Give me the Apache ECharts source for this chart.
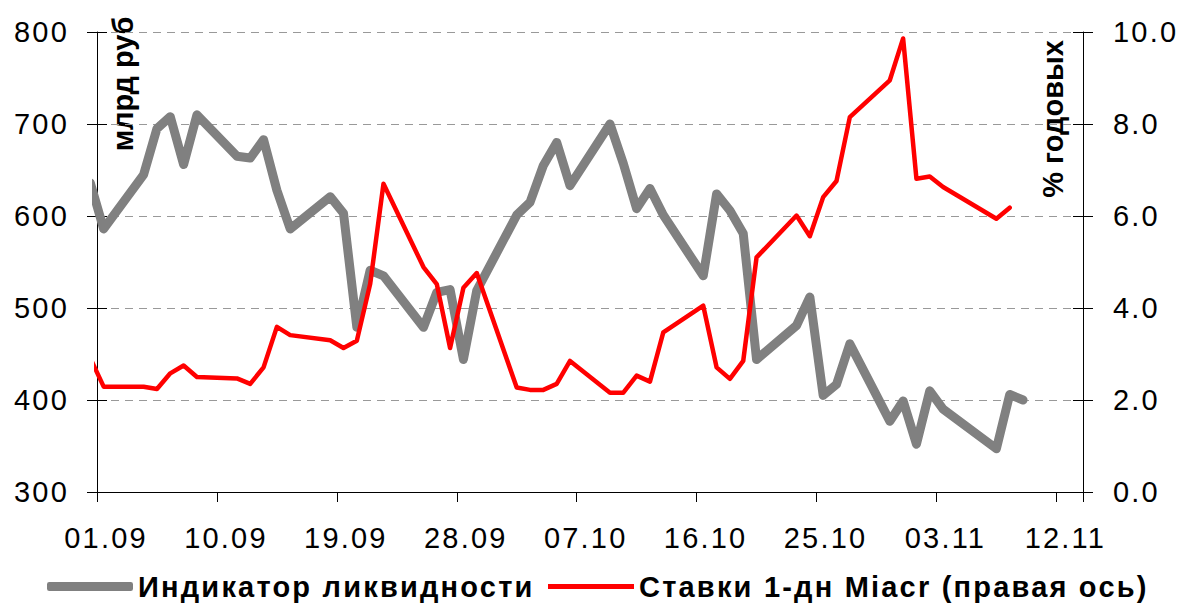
<!DOCTYPE html>
<html>
<head>
<meta charset="utf-8">
<script src="https://cdn.jsdelivr.net/npm/echarts@6/dist/echarts.min.js"></script>
<style>
  html, body { margin: 0; padding: 0; background: #fff; }
  #chart { width: 1186px; height: 606px; }
  /* в оригинале текст чуть растянут по горизонтали */
  #chart svg text { letter-spacing: 2.2px; }
</style>
</head>
<body>
<div id="chart"></div>
<script>
// торговые дни (31.08 — за левым краем, обрезается)
const dates = [
  '31.08', '01.09', '04.09', '05.09', '06.09', '07.09', '08.09',
  '11.09', '12.09', '13.09', '14.09', '15.09',
  '18.09', '19.09', '20.09', '21.09', '22.09',
  '25.09', '26.09', '27.09', '28.09', '29.09',
  '02.10', '03.10', '04.10', '05.10', '06.10',
  '09.10', '10.10', '11.10', '12.10', '13.10',
  '16.10', '17.10', '18.10', '19.10', '20.10',
  '23.10', '24.10', '25.10', '26.10', '27.10',
  '30.10', '31.10', '01.11', '02.11', '03.11',
  '07.11', '08.11', '09.11'
];
// Индикатор ликвидности, млрд руб
const liquidity = [
  636, 586, 645, 695, 708, 656, 710,
  665, 663, 683, 628, 586,
  621, 603, 479, 541, 535,
  479, 517, 520, 444, 519,
  601, 615, 655, 680, 633,
  700, 657, 608, 630, 601,
  535, 624, 606, 581, 444,
  481, 512, 405, 417, 461,
  377, 399, 352, 410, 390,
  347, 406, 400
];
// Ставки 1-дн Miacr, % годовых
const miacr = [
  2.91, 2.29, 2.29, 2.24, 2.58, 2.75, 2.5,
  2.47, 2.35, 2.71, 3.59, 3.41,
  3.3, 3.13, 3.29, 4.52, 6.7,
  4.89, 4.52, 3.13, 4.44, 4.76,
  2.27, 2.22, 2.22, 2.35, 2.85,
  2.16, 2.16, 2.53, 2.4, 3.47,
  4.05, 2.71, 2.46, 2.85, 5.1,
  6.01, 5.56, 6.41, 6.76, 8.15,
  8.95, 9.86, 6.81, 6.86, 6.63,
  5.94, 6.18, null
];
const xTickLabels = ['01.09', '10.09', '19.09', '28.09', '07.10', '16.10', '25.10', '03.11', '12.11'];
const leftTicks = [300, 800, 100];
const rightTicks = [0, 10, 2];

const FONT = '"Liberation Sans", Arial, sans-serif';
const DAY = 86400000;
const start = Date.UTC(2006, 8, 1);

// день от 01.09, точка — в середине дня (как на оси дат Excel)
function dayPos(s) {
  const p = s.split('.');
  return (Date.UTC(2006, +p[1] - 1, +p[0]) - start) / DAY + 0.5;
}
const liqData = dates.map((d, i) => [dayPos(d), liquidity[i]]);
const miacrData = dates.map((d, i) => [dayPos(d), miacr[i]]).filter(p => p[1] !== null);

const chart = echarts.init(document.getElementById('chart'), null, { renderer: 'svg' });

const yCommon = (ticks) => ({
  type: 'value',
  min: ticks[0],
  max: ticks[1],
  interval: ticks[2]
});

const legendText = { fontFamily: FONT, fontSize: 29, fontWeight: 'bold', color: '#000' };

chart.setOption({
  animation: false,
  backgroundColor: '#fff',
  grid: { left: 97, right: 103, top: 32, bottom: 114 },
  legend: [
    {
      data: [{ name: 'Индикатор ликвидности', icon: 'roundRect' }],
      left: 42,
      top: 567,
      itemWidth: 86,
      itemHeight: 9,
      textStyle: legendText
    },
    {
      data: [{ name: 'Ставки 1-дн Miacr (правая ось)', icon: 'rect' }],
      left: 543,
      top: 567,
      itemWidth: 86,
      itemHeight: 5,
      textStyle: legendText
    }
  ],
  xAxis: {
    type: 'value',
    min: 0,
    max: 74,
    interval: 9,
    axisLine: { lineStyle: { color: '#000', width: 1 } },
    axisTick: { length: 10, lineStyle: { color: '#000' } },
    splitLine: { show: false },
    axisLabel: {
      margin: 31,
      padding: [0, 0, 0, 18],
      fontFamily: FONT,
      fontSize: 29,
      color: '#000',
      formatter: (v) => (v % 9 === 0 && xTickLabels[v / 9]) || ''
    }
  },
  yAxis: [
    Object.assign(yCommon(leftTicks), {
      position: 'left',
      axisLine: { show: true, lineStyle: { color: '#000' } },
      axisTick: { show: true, length: 10, lineStyle: { color: '#000' } },
      splitLine: { show: true, lineStyle: { color: '#999', type: [8, 6], width: 1 } },
      axisLabel: { margin: 28, fontFamily: FONT, fontSize: 29, color: '#000' }
    }),
    Object.assign(yCommon(rightTicks), {
      position: 'right',
      axisLine: { show: true, lineStyle: { color: '#000' } },
      axisTick: { show: true, length: 10, lineStyle: { color: '#000' } },
      splitLine: { show: false },
      axisLabel: {
        margin: 30, fontFamily: FONT, fontSize: 29, color: '#000',
        formatter: (v) => v.toFixed(1)
      }
    }),
    // внутренние половинки крестовых делений
    Object.assign(yCommon(leftTicks), {
      position: 'left',
      axisLine: { show: false },
      axisTick: { show: true, inside: true, length: 10, lineStyle: { color: '#000' } },
      splitLine: { show: false },
      axisLabel: { show: false }
    }),
    Object.assign(yCommon(rightTicks), {
      position: 'right',
      axisLine: { show: false },
      axisTick: { show: true, inside: true, length: 10, lineStyle: { color: '#000' } },
      splitLine: { show: false },
      axisLabel: { show: false }
    })
  ],
  graphic: [
    {
      type: 'text',
      x: 123,
      y: 84,
      rotation: Math.PI / 2,
      style: {
        text: 'млрд руб',
        font: 'bold 29px ' + FONT,
        fill: '#000',
        align: 'center', verticalAlign: 'middle',
        textAlign: 'center', textVerticalAlign: 'middle'
      }
    },
    {
      type: 'text',
      x: 1053,
      y: 119,
      rotation: Math.PI / 2,
      style: {
        text: '% годовых',
        font: 'bold 29px ' + FONT,
        fill: '#000',
        align: 'center', verticalAlign: 'middle',
        textAlign: 'center', textVerticalAlign: 'middle'
      }
    }
  ],
  series: [
    {
      name: 'Индикатор ликвидности',
      type: 'line',
      yAxisIndex: 0,
      data: liqData,
      showSymbol: false,
      symbol: 'none',
      clip: true,
      color: '#808080',
      lineStyle: { color: '#808080', width: 9, join: 'round', cap: 'round' },
      z: 2
    },
    {
      name: 'Ставки 1-дн Miacr (правая ось)',
      type: 'line',
      yAxisIndex: 1,
      data: miacrData,
      showSymbol: false,
      symbol: 'none',
      clip: true,
      color: '#ff0000',
      lineStyle: { color: '#ff0000', width: 4.5, join: 'round', cap: 'round' },
      z: 3
    }
  ]
});

// подписи осей вертикальные — их не растягиваем
function fixRotated() {
  document.querySelectorAll('#chart svg text').forEach((t) => {
    if (t.textContent === 'млрд руб' || t.textContent === '% годовых') {
      t.style.letterSpacing = '0px';
    }
  });
}
fixRotated();
chart.on('finished', fixRotated);

window.addEventListener('resize', () => {
  chart.resize();
});
</script>
</body>
</html>
